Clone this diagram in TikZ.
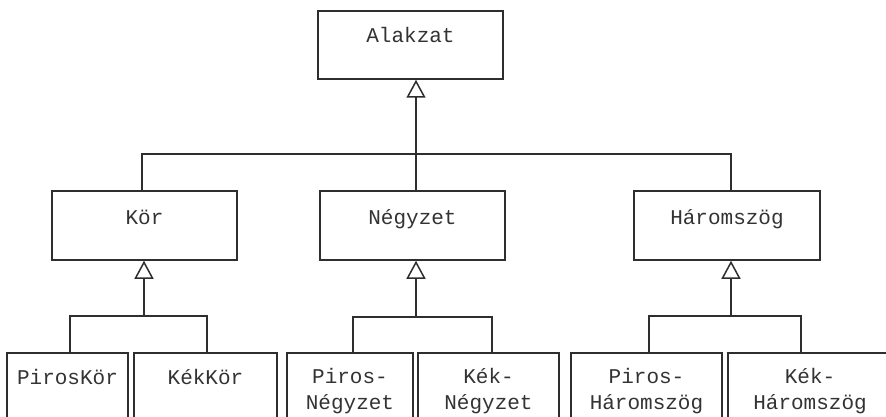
\documentclass[tikz,border=0pt]{standalone}
\usepackage{fontspec}
\setmonofont{Liberation Mono}
\usetikzlibrary{arrows.meta}
\definecolor{linec}{HTML}{2E2E2E}
\definecolor{textc}{HTML}{333333}
\begin{document}
\begin{tikzpicture}[x=1pt,y=-1pt,
  box/.style={draw=linec, line width=1.5pt, inner sep=0pt},
  lbl/.style={font=\ttfamily\fontsize{21}{26}\selectfont, text=textc, inner sep=0pt, anchor=base, align=center},
  ln/.style={draw=linec, line width=1.5pt},
  inh/.style={ln, -{Triangle[open, length=18pt, width=19pt, line width=1.5pt]}},
]
\useasboundingbox (0,0) rectangle (886,417);
\fill[white] (0,0) rectangle (886,417);
\clip (0,0) rectangle (886,417);
% boxes
\node[box, minimum width=185pt, minimum height=68pt] (A) at (410.5,45) {};
\node[box, minimum width=185pt, minimum height=69pt] (kor) at (144.5,225.5) {};
\node[box, minimum width=185pt, minimum height=69pt] (negy) at (412.5,225.5) {};
\node[box, minimum width=186pt, minimum height=69pt] (harom) at (727,225.5) {};
\node[box, minimum width=121pt, minimum height=87pt] (pk) at (67.5,396.5) {};
\node[box, minimum width=143pt, minimum height=87pt] (kk) at (205.5,396.5) {};
\node[box, minimum width=126pt, minimum height=87pt] (pn) at (350,396.5) {};
\node[box, minimum width=141pt, minimum height=87pt] (kn) at (488.5,396.5) {};
\node[box, minimum width=151pt, minimum height=87pt] (ph) at (646.5,396.5) {};
\node[box, minimum width=176pt, minimum height=87pt] (kh) at (816,396.5) {};
% labels
\node[lbl] (At) at ([yshift=-32pt]A.north) {Alakzat};
\node[lbl] (kort) at ([yshift=-34pt]kor.north) {Kör};
\node[lbl] (negyt) at ([yshift=-34pt]negy.north) {Négyzet};
\node[lbl] (haromt) at ([yshift=-34pt]harom.north) {Háromszög};
\node[lbl] (pkt) at ([yshift=-32pt]pk.north) {PirosKör};
\node[lbl] (kkt) at ([yshift=-32pt]kk.north) {KékKör};
\node[lbl] (pnt) at ([yshift=-57pt]pn.north) {Piros-\\Négyzet};
\node[lbl] (knt) at ([yshift=-57pt]kn.north) {Kék-\\Négyzet};
\node[lbl] (pht) at ([yshift=-57pt]ph.north) {Piros-\\Háromszög};
\node[lbl] (kht) at ([xshift=-6pt,yshift=-57pt]kh.north) {Kék-\\Háromszög};
% connectors
\coordinate (jA) at (416,154);
\draw[inh] (jA) -- (A.south -| jA);
\draw[ln] ([xshift=-2.5pt]kor.north) |- (jA) -| ([xshift=4pt]harom.north);
\draw[ln] (jA) -- (negy.north -| jA);
\coordinate (jK) at (144,316);
\draw[inh] (jK) -- (kor.south -| jK);
\draw[ln] ([xshift=2.5pt]pk.north) |- (jK) -| ([xshift=1.5pt]kk.north);
\coordinate (jN) at (416,317);
\draw[inh] (jN) -- (negy.south -| jN);
\draw[ln] ([xshift=3pt]pn.north) |- (jN) -| ([xshift=3.5pt]kn.north);
\coordinate (jH) at (731,316);
\draw[inh] (jH) -- (harom.south -| jH);
\draw[ln] ([xshift=2.5pt]ph.north) |- (jH) -| ([xshift=-15pt]kh.north);
\end{tikzpicture}
\end{document}
